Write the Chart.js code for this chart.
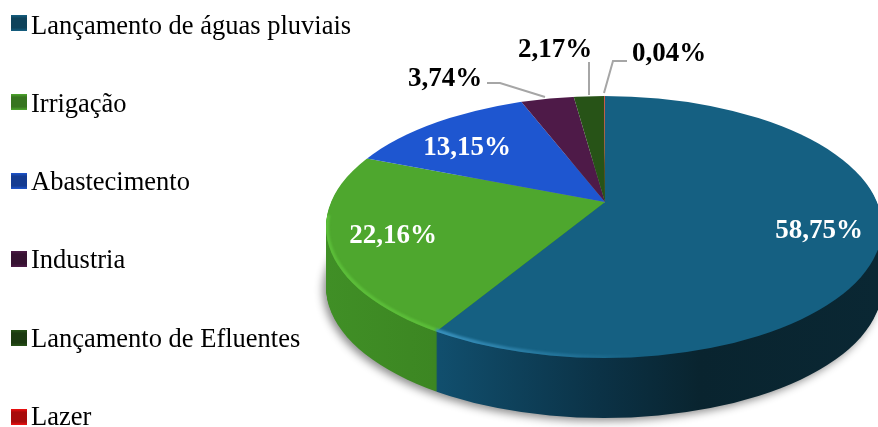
<!DOCTYPE html>
<html>
<head>
<meta charset="utf-8">
<script src="https://cdn.jsdelivr.net/npm/chart.js@4"></script>
<style>
body { margin: 0; background: #fff; }
canvas { display: block; }
</style>
</head>
<body>
<canvas id="chart" width="878" height="427"></canvas>
<script>
const categories = ['Lançamento de águas pluviais', 'Irrigação', 'Abastecimento', 'Industria', 'Lançamento de Efluentes', 'Lazer'];
const values = [58.75, 22.16, 13.15, 3.74, 2.17, 0.04];
const colors = ['#156082', '#4ea72e', '#1e56d0', '#4e1a48', '#275317', '#f01010'];

// Looks of the tilted disc, in page pixels
const rim = { cx: 604, cy: 227, rx: 278, ry: 131, depth: 60 };
const apex = { x: 605, y: 202, reach: 340, tilt: 0.47 };
const wallStops = [
    [[436, '#114f6e'], [600, '#0b3246'], [700, '#09242f'], [878, '#0a2733']],
    [[326, '#408f26'], [436, '#3c8622']]
];

// Where the percentages sit, and the grey leader lines for the small slices
const labelPos = [[819, 231, '#fff'], [393, 236, '#fff'], [467, 148, '#fff'], [445, 79, '#000'], [555, 50, '#000'], [669, 54, '#000']];
const leaders = [
    [[487, 83], [500, 83], [545, 97]],
    [[589, 62], [589, 95]],
    [[627, 61], [613, 61], [604, 93]]
];
const legendY = [27, 105, 183, 261, 340, 418];
const legendBoxY = [23, 102, 181, 259, 338, 417];

function enterDisc(ctx, arc, drop) {
    const sx = apex.reach / arc.outerRadius;
    ctx.translate(apex.x, apex.y + drop);
    ctx.scale(sx, sx * apex.tilt);
    ctx.translate(-arc.x, -arc.y);
}

function clipEllipse(ctx, drop) {
    ctx.beginPath();
    ctx.ellipse(rim.cx, rim.cy + drop, rim.rx, rim.ry, 0, 0, Math.PI * 2);
    ctx.clip();
}

const disc3d = {
    id: 'disc3d',
    beforeDatasetsDraw(chart) {
        const ctx = chart.ctx;
        const arcs = chart.getDatasetMeta(0).data;
        const sx = apex.reach / arcs[0].outerRadius;

        // soft shadow under the wall, the shape itself stays off the canvas
        ctx.save();
        ctx.shadowColor = 'rgba(0,0,0,0.45)';
        ctx.shadowBlur = 8;
        ctx.shadowOffsetX = 2000 - 3;
        ctx.shadowOffsetY = 3;
        ctx.fillStyle = '#000';
        ctx.beginPath();
        ctx.ellipse(rim.cx - 2000, rim.cy + rim.depth, rim.rx, rim.ry, 0, 0, Math.PI * 2);
        ctx.fill();
        ctx.restore();

        // wall: the two front slices stacked downwards in dark shades
        const fills = wallStops.map(stops => {
            const toArc = x => arcs[0].x + (x - apex.x) / sx;
            const g = ctx.createLinearGradient(toArc(stops[0][0]), 0, toArc(stops[stops.length - 1][0]), 0);
            const span = stops[stops.length - 1][0] - stops[0][0];
            stops.forEach(s => g.addColorStop((s[0] - stops[0][0]) / span, s[1]));
            return g;
        });
        for (let d = rim.depth; d >= 1; d--) {
            ctx.save();
            clipEllipse(ctx, d);
            enterDisc(ctx, arcs[0], d);
            [0, 1].forEach(i => {
                const keep = arcs[i].options;
                arcs[i].options = Object.assign({}, keep, { backgroundColor: fills[i] });
                arcs[i].draw(ctx);
                arcs[i].options = keep;
            });
            ctx.restore();
        }

        // top face, the library draws it inside this transform
        ctx.save();
        clipEllipse(ctx, 0);
        enterDisc(ctx, arcs[0], 0);
    },
    afterDatasetsDraw(chart) {
        const ctx = chart.ctx;
        ctx.restore();

        // light bevel along the front edge
        ctx.save();
        clipEllipse(ctx, 0);
        ctx.filter = 'blur(1px)';
        ctx.lineWidth = 6;
        ctx.strokeStyle = 'rgba(95,195,60,0.8)';
        ctx.beginPath();
        ctx.ellipse(rim.cx, rim.cy, rim.rx, rim.ry, 0, Math.PI * 0.707, Math.PI * 1.03);
        ctx.stroke();
        const g = ctx.createLinearGradient(436, 0, 640, 0);
        g.addColorStop(0, 'rgba(60,150,195,0.9)');
        g.addColorStop(1, 'rgba(60,150,195,0)');
        ctx.strokeStyle = g;
        ctx.beginPath();
        ctx.ellipse(rim.cx, rim.cy, rim.rx, rim.ry, 0, Math.PI * 0.45, Math.PI * 0.707);
        ctx.stroke();
        ctx.restore();

        // leader lines
        ctx.save();
        ctx.strokeStyle = '#a6a6a6';
        ctx.lineWidth = 2;
        leaders.forEach(line => {
            ctx.beginPath();
            line.forEach((p, i) => i ? ctx.lineTo(p[0], p[1]) : ctx.moveTo(p[0], p[1]));
            ctx.stroke();
        });
        ctx.restore();

        // percentages
        ctx.save();
        ctx.font = 'bold 27px "Liberation Serif"';
        ctx.textAlign = 'center';
        ctx.textBaseline = 'middle';
        labelPos.forEach((p, i) => {
            ctx.fillStyle = p[2];
            ctx.fillText(values[i].toFixed(2).replace('.', ',') + '%', p[0], p[1]);
        });
        ctx.restore();

        // legend on the left
        ctx.save();
        ctx.font = '26.5px "Liberation Serif"';
        ctx.textBaseline = 'middle';
        categories.forEach((name, i) => {
            const y = legendBoxY[i];
            const sq = ctx.createLinearGradient(0, y - 8, 0, y + 8);
            sq.addColorStop(0, colors[i]);
            sq.addColorStop(0.2, shade(colors[i]));
            sq.addColorStop(0.8, shade(colors[i]));
            sq.addColorStop(1, colors[i]);
            ctx.fillStyle = sq;
            ctx.fillRect(11, y - 8, 16, 16);
            ctx.fillStyle = '#000';
            ctx.fillText(name, 31, legendY[i]);
        });
        ctx.restore();
    }
};

function shade(hex) {
    const n = parseInt(hex.slice(1), 16);
    const f = c => Math.round(c * 0.7);
    return `rgb(${f(n >> 16)},${f((n >> 8) & 255)},${f(n & 255)})`;
}

new Chart(document.getElementById('chart').getContext('2d'), {
    type: 'pie',
    data: {
        labels: categories,
        datasets: [{
            data: values,
            backgroundColor: colors,
            borderWidth: 0,
            clip: false
        }]
    },
    options: {
        responsive: false,
        animation: false,
        layout: { padding: 0 },
        plugins: {
            legend: { display: false },
            tooltip: { enabled: false }
        }
    },
    plugins: [disc3d]
});
</script>
</body>
</html>
